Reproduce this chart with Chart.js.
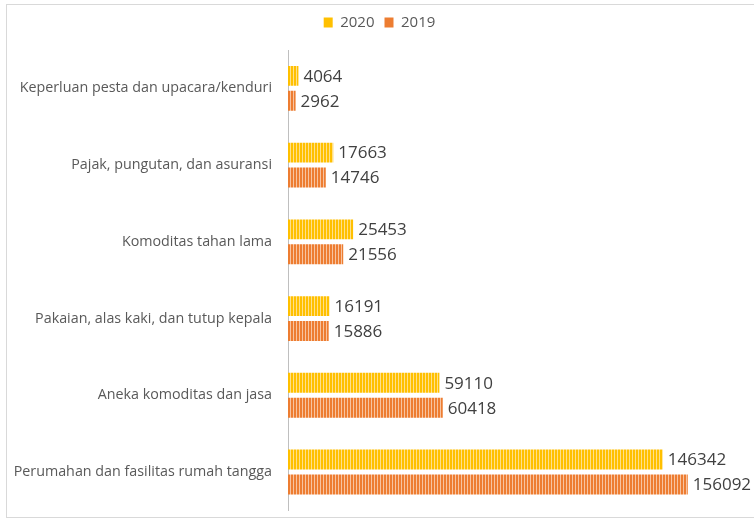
<!DOCTYPE html>
<html><head><meta charset="utf-8">
<script src="https://cdn.jsdelivr.net/npm/chart.js@4/dist/chart.umd.min.js"></script>
<style>
html,body{margin:0;padding:0;background:#fff;overflow:hidden;}
#wrap{position:relative;width:754px;height:521px;overflow:hidden;}
#frame{position:absolute;left:6px;top:4px;width:760px;height:514px;border:1px solid #d9d9d9;box-sizing:border-box;pointer-events:none;}
canvas{position:absolute;left:0;top:0;}
</style></head><body>
<div id="wrap"><canvas id="c" width="754" height="535"></canvas><div id="frame"></div></div>
<script>
const categories = [
  "Keperluan pesta dan upacara/kenduri",
  "Pajak, pungutan, dan asuransi",
  "Komoditas tahan lama",
  "Pakaian, alas kaki, dan tutup kepala",
  "Aneka komoditas dan jasa",
  "Perumahan dan fasilitas rumah tangga"
];
const values2020 = [4064, 17663, 25453, 16191, 59110, 146342];
const values2019 = [2962, 14746, 21556, 15886, 60418, 156092];
const seriesNames = ["2020", "2019"];

function stripes(c1, c2) {
  const p = document.createElement('canvas');
  p.width = 3; p.height = 4;
  const g = p.getContext('2d');
  g.fillStyle = c1; g.fillRect(0,0,3,4);
  g.fillStyle = c2; g.fillRect(2,0,1,4);
  return g.createPattern(p, 'repeat');
}
const ctx = document.getElementById('c').getContext('2d');
const patY = stripes('#FFC000', '#FFE08A');
const patO = stripes('#ED7D31', '#F8C3A0');

const labelPlugin = {
  id: 'vals',
  afterDatasetsDraw(chart) {
    const g = chart.ctx;
    g.save();
    g.font = '17px "Open Sans", Lato, sans-serif';
    g.fillStyle = '#404040';
    g.textBaseline = 'middle';
    g.textAlign = 'left';
    chart.data.datasets.forEach((ds, i) => {
      chart.getDatasetMeta(i).data.forEach((el, j) => {
        g.fillText(String(ds.data[j]), el.x + 5, el.y + 1);
      });
    });
    g.restore();
  }
};

const legendGap = {
  id: 'legendGap',
  afterInit(chart) {
    const lg = chart.legend;
    if (lg && !lg._patched) {
      const f = lg.fit;
      lg.fit = function () { f.call(this); this.height += 10; };
      lg._patched = true;
    }
  }
};

new Chart(ctx, {
  type: 'bar',
  data: {
    labels: categories,
    datasets: [
      { label: seriesNames[0], data: values2020, backgroundColor: patY, borderWidth: 0 },
      { label: seriesNames[1], data: values2019, backgroundColor: patO, borderWidth: 0 }
    ]
  },
  options: {
    indexAxis: 'y',
    responsive: false,
    animation: false,
    devicePixelRatio: 1,
    categoryPercentage: 0.65,
    barPercentage: 0.8,
    layout: { padding: { left: 10, right: 5, top: 5, bottom: 0 } },
    plugins: {
      legend: {
        position: 'top',
        labels: {
          boxWidth: 9, boxHeight: 10, padding: 10,
          color: '#595959',
          font: { size: 15, family: '"Open Sans", Lato, sans-serif' },
          generateLabels(chart) {
            return chart.data.datasets.map((d, i) => ({
              text: d.label, fillStyle: i === 0 ? '#FFC000' : '#ED7D31',
              strokeStyle: 'transparent', lineWidth: 0, datasetIndex: i, fontColor: '#595959'
            }));
          }
        }
      },
      tooltip: { enabled: false }
    },
    scales: {
      x: { display: false, min: 0, max: 180000 },
      y: {
        grid: { display: false, drawTicks: false },
        border: { display: true, color: '#bfbfbf', width: 1 },
        ticks: {
          color: '#595959', padding: 16,
          font: { size: 14.3, family: '"Open Sans", Lato, sans-serif' }
        },
        afterFit(scale) { scale.width = 278; }
      }
    }
  },
  plugins: [labelPlugin, legendGap]
});
</script>
</body></html>
